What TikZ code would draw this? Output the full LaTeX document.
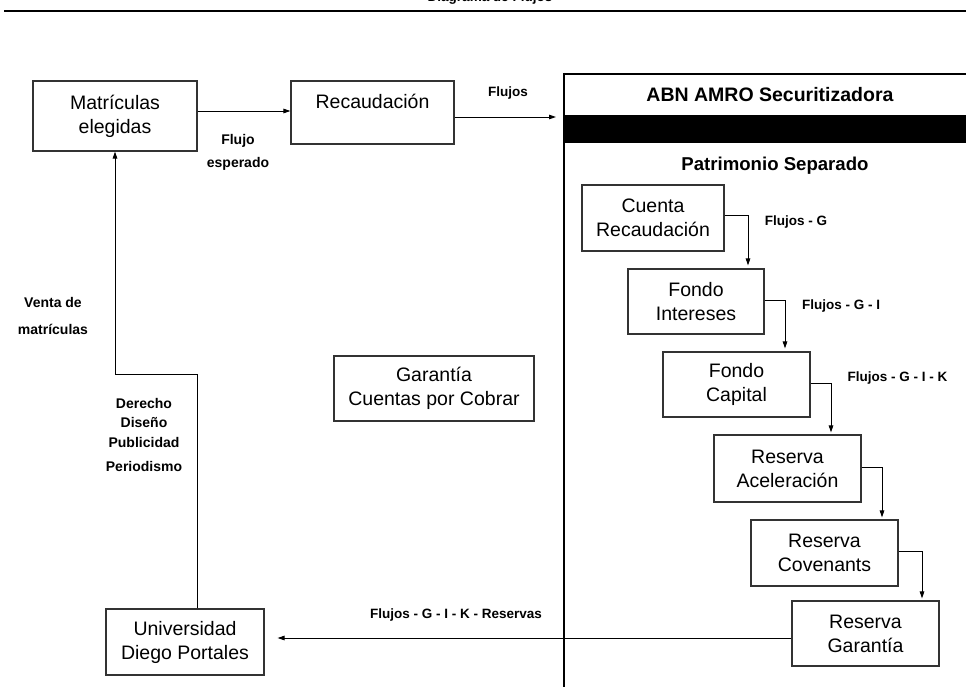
\documentclass[tikz,border=0pt]{standalone}
\usepackage{fontspec}
\setmainfont{Liberation Sans}
\usetikzlibrary{arrows.meta}
\begin{document}
\begin{tikzpicture}[x=1pt,y=-1pt,
  box/.style={draw=black!80, line width=1.1pt, align=center, inner sep=0pt,
    font=\fontsize{19.5}{24}\selectfont},
  lbl/.style={font=\fontsize{14}{23}\selectfont\bfseries, align=center, inner sep=0pt},
  flbl/.style={font=\fontsize{13.5}{16}\selectfont\bfseries, align=center, inner sep=0pt},
  arr/.style={-{Triangle[length=7pt,width=4.5pt]}, line width=0.9pt},
  conn/.style={line width=0.9pt}]
\useasboundingbox (0,0) rectangle (966,687);

% title and rule
\node[flbl, anchor=base] (title) at (490,2) {Diagrama de Flujos};
\draw[line width=2.5pt] (4,11) -- (966,11);

% big box (ABN AMRO)
\fill (564,115) rectangle (966,143);
\draw[line width=1.5pt] (564,74) -- (966,74);
\draw[line width=2.6pt] (564,73) -- (564,687);
\node[font=\fontsize{19.5}{24}\selectfont\bfseries] (abn) at (770,95) {ABN AMRO Securitizadora};
\node[font=\fontsize{18.6}{24}\selectfont\bfseries] (ps) at (775,166) {Patrimonio Separado};
\coordinate (abnin) at (556,117);

% left boxes
\node[box, minimum width=164pt, minimum height=70pt] (mat) at (115,116) {Matrículas\\elegidas};
\node[box, minimum width=163pt, text height=28pt, text depth=35pt, text width=163pt] (rec) at (372.5,112.5) {Recaudación};
\node[box, minimum width=200pt, minimum height=65pt] (gar) at (434,388.5) {Garantía\\Cuentas por Cobrar};
\node[box, minimum width=158pt, minimum height=66pt] (udp) at (185,642) {Universidad\\Diego Portales};

% cascade boxes
\node[box, minimum width=142pt, minimum height=66pt] (cr) at (653,218) {Cuenta\\Recaudación};
\node[box, minimum width=136pt, minimum height=65pt] (fi) at (696,301.5) {Fondo\\Intereses};
\node[box, minimum width=147pt, minimum height=65pt] (fc) at (736.5,384.5) {Fondo\\Capital};
\node[box, minimum width=147pt, minimum height=67pt] (ra) at (787.5,468.5) {Reserva\\Aceleración};
\node[box, minimum width=147pt, minimum height=66pt] (rc) at (824.5,553) {Reserva\\Covenants};
\node[box, minimum width=147pt, minimum height=65pt] (rg) at (865.5,633.5) {Reserva\\Garantía};

% connectors
\draw[arr] ([yshift=5pt]mat.east) -- ([yshift=5pt]mat.east -| rec.west);
\draw[arr] ([yshift=-4.5pt]rec.east) -- (abnin);
\coordinate (b1) at (197,374);
\coordinate (b2) at (115,374);
\draw[arr] ([xshift=12pt]udp.north) -- (b1) -- (b2) -- (b2 |- mat.south);
\draw[arr, shorten >=13pt] ([yshift=-4.5pt]rg.west) -- ([yshift=-4.5pt]rg.west -| udp.east);

\draw[arr, shorten >=3pt] ([yshift=3pt]cr.east) -| ([xshift=52pt]fi.north);
\draw[arr, shorten >=3pt] ([yshift=1.5pt]fi.east) -| ([xshift=48.5pt]fc.north);
\draw[arr, shorten >=2pt] ([yshift=1.5pt]fc.east) -| ([xshift=43.5pt]ra.north);
\draw[arr, shorten >=2pt] ([yshift=1.5pt]ra.east) -| ([xshift=57.5pt]rc.north);
\draw[arr, shorten >=2pt] ([yshift=2pt]rc.east) -| ([xshift=56.5pt]rg.north);

% labels
\node[lbl] (lflujo) at (238,152.5) {Flujo\\esperado};
\node[flbl] (lflujos) at (508,93) {Flujos};
\node[lbl, font=\fontsize{14}{27}\selectfont\bfseries] (lventa) at (53,315.5) {Venta de\\matrículas};
\node[lbl, font=\fontsize{14}{19.5}\selectfont\bfseries] (lcar) at (144,435) {Derecho\\Diseño\\Publicidad\\[5pt]Periodismo};
\node[flbl] (lg) at (796,222) {Flujos - G};
\node[flbl] (lgi) at (841,306) {Flujos - G - I};
\node[flbl] (lgik) at (897.5,378) {Flujos - G - I - K};
\node[flbl] (lgikr) at (456,615) {Flujos - G - I - K - Reservas};
\end{tikzpicture}
\end{document}
